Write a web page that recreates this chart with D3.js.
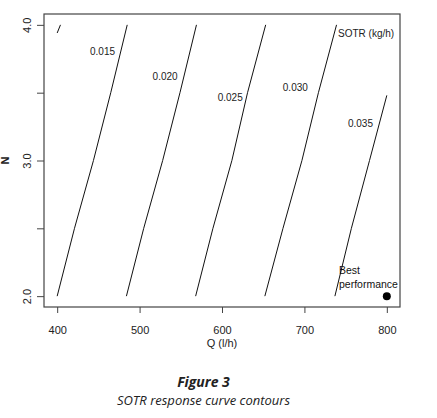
<!DOCTYPE html>
<html>
<head>
<meta charset="utf-8">
<script src="https://cdn.jsdelivr.net/npm/d3@7"></script>
<style>
  body { margin: 0; background: #fff; }
  svg { display: block; }
  .tick text { font-family: "Liberation Sans", Arial, sans-serif; font-size: 11px; fill: #222; }
</style>
</head>
<body>
<script>
// contour levels and the points each line passes through (Q, N)
const levels = ["0.010", "0.015", "0.020", "0.025", "0.030", "0.035"];
const nGrid = [2.0, 2.5, 3.0, 3.5, 4.0];
const n010 = [3.94, 4.0];
const q010 = [400, 404];
const q015 = [400, 421, 444, 465, 485];
const q020 = [484, 505, 528, 549, 569];
const q025 = [568, 589, 612, 631, 653];
const q030 = [652, 674, 697, 717, 739];
const n035 = [2.0, 2.5, 3.0, 3.48];
const q035 = [737, 757, 779, 800];
// label anchor for each level (Q, N)
const labelQ = [null, 455, 531, 610, 689, 768];
const labelN = [null, 3.78, 3.59, 3.44, 3.51, 3.25];
const xTicks = [400, 500, 600, 700, 800];
const yTicks = [2.0, 2.5, 3.0, 3.5, 4.0];
const yTickLabels = ["2.0", "", "3.0", "", "4.0"];
const bestQ = 800, bestN = 2.0;

const width = 437, height = 418;
const margin = { left: 44, top: 14, right: 37, bottom: 111 };

const svg = d3.select("body").append("svg")
  .attr("width", width)
  .attr("height", height);

const x = d3.scaleLinear().domain([384, 816]).range([margin.left, width - margin.right]);
const y = d3.scaleLinear().domain([1.92, 4.08]).range([height - margin.bottom, margin.top]);

// plot box
svg.append("rect")
  .attr("x", x(384)).attr("y", y(4.08))
  .attr("width", x(816) - x(384)).attr("height", y(1.92) - y(4.08))
  .attr("fill", "none").attr("stroke", "#444").attr("stroke-width", 1.2);

// axes
const xAxis = svg.append("g")
  .attr("transform", `translate(0,${y(1.92)})`)
  .call(d3.axisBottom(x).tickValues(xTicks).tickSize(6).tickPadding(13).tickFormat(d3.format("d")));
xAxis.select(".domain").remove();
xAxis.selectAll(".tick line").attr("stroke", "#444");

const yAxis = svg.append("g")
  .attr("transform", `translate(${x(384)},0)`)
  .call(d3.axisLeft(y).tickValues(yTicks).tickSize(7).tickFormat((d, i) => yTickLabels[i]));
yAxis.select(".domain").remove();
yAxis.selectAll(".tick line").attr("stroke", "#444");
yAxis.selectAll(".tick text")
  .attr("x", 0).attr("dy", 0)
  .attr("text-anchor", "middle")
  .attr("transform", "translate(-13,0) rotate(-90)");

// axis titles
svg.append("text")
  .attr("x", (x(384) + x(816)) / 2).attr("y", 347)
  .attr("text-anchor", "middle")
  .style("font-family", "Liberation Sans, Arial, sans-serif").style("font-size", "11px").style("fill", "#222")
  .text("Q (l/h)");
svg.append("text")
  .attr("transform", `translate(9,${y(3.0)}) rotate(-90)`)
  .attr("text-anchor", "middle")
  .style("font-family", "Liberation Sans, Arial, sans-serif").style("font-size", "11px").style("font-weight", "bold").style("fill", "#222")
  .text("N");

// contour lines
const lines = [
  q010.map((q, i) => [q, n010[i]]),
  q015.map((q, i) => [q, nGrid[i]]),
  q020.map((q, i) => [q, nGrid[i]]),
  q025.map((q, i) => [q, nGrid[i]]),
  q030.map((q, i) => [q, nGrid[i]]),
  q035.map((q, i) => [q, n035[i]])
];
const line = d3.line().x(d => x(d[0])).y(d => y(d[1]));
svg.append("g").selectAll("path")
  .data(lines)
  .join("path")
  .attr("d", line)
  .attr("fill", "none")
  .attr("stroke", "#111")
  .attr("stroke-width", 1);

// level labels
svg.append("g").selectAll("text")
  .data(levels.slice(1))
  .join("text")
  .attr("x", (d, i) => x(labelQ[i + 1]))
  .attr("y", (d, i) => y(labelN[i + 1]))
  .attr("text-anchor", "middle")
  .style("font-family", "Liberation Sans, Arial, sans-serif").style("font-size", "10px").style("fill", "#222")
  .text(d => d);

svg.append("text")
  .attr("x", 338).attr("y", 37)
  .style("font-family", "Liberation Sans, Arial, sans-serif").style("font-size", "10px").style("fill", "#222")
  .text("SOTR (kg/h)");

// best performance point
svg.append("circle")
  .attr("cx", x(bestQ)).attr("cy", y(bestN))
  .attr("r", 4).attr("fill", "#000");
svg.append("text")
  .attr("x", 339).attr("y", 274)
  .style("font-family", "Liberation Sans, Arial, sans-serif").style("font-size", "10.5px").style("fill", "#111")
  .text("Best");
svg.append("text")
  .attr("x", 339).attr("y", 288)
  .style("font-family", "Liberation Sans, Arial, sans-serif").style("font-size", "10.5px").style("fill", "#111")
  .text("performance");

// caption
svg.append("text")
  .attr("x", 203.5).attr("y", 387)
  .attr("text-anchor", "middle")
  .style("font-family", "Open Sans, sans-serif").style("font-size", "14px")
  .style("font-style", "italic").style("font-weight", "bold").style("fill", "#222")
  .text("Figure 3");
svg.append("text")
  .attr("x", 203.5).attr("y", 405)
  .attr("text-anchor", "middle")
  .style("font-family", "Open Sans, sans-serif").style("font-size", "13px")
  .style("font-style", "italic").style("fill", "#222")
  .text("SOTR response curve contours");
</script>
</body>
</html>
